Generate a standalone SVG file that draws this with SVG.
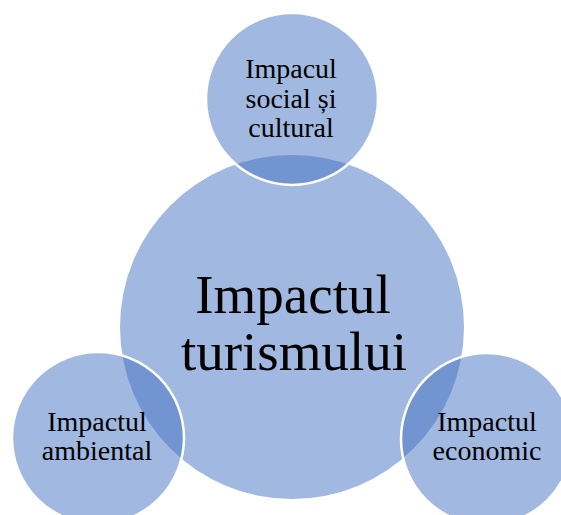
<svg xmlns="http://www.w3.org/2000/svg" width="561" height="515" viewBox="0 0 561 515">
<style>
.c{fill:#4472C4;fill-opacity:0.5}
.s{stroke:#ffffff;stroke-width:2.5}
text{font-family:"Liberation Serif","Times New Roman",serif;fill:#000;text-anchor:middle}
.big{font-size:55px}
.sm{font-size:28px}
</style>
<rect width="561" height="515" fill="#ffffff"/>
<g id="center">
<circle class="c" cx="292" cy="327" r="172"/>
</g>
<g id="social">
<circle class="c s" cx="292" cy="99" r="86"/>
</g>
<g id="ambiental">
<circle class="c s" cx="98" cy="438" r="86"/>
</g>
<g id="economic">
<circle class="c s" cx="487" cy="439" r="86"/>
</g>
<g id="connectors"/>
<g id="labels">
<text class="big" x="293" y="313">Impactul</text>
<text class="big" x="294" y="370">turismului</text>
<text class="sm" x="291" y="78">Impacul</text>
<text class="sm" x="291" y="108">social și</text>
<text class="sm" x="291" y="137">cultural</text>
<text class="sm" x="97" y="431">Impactul</text>
<text class="sm" x="97" y="460">ambiental</text>
<text class="sm" x="487" y="431">Impactul</text>
<text class="sm" x="487" y="460">economic</text>
</g>
</svg>
